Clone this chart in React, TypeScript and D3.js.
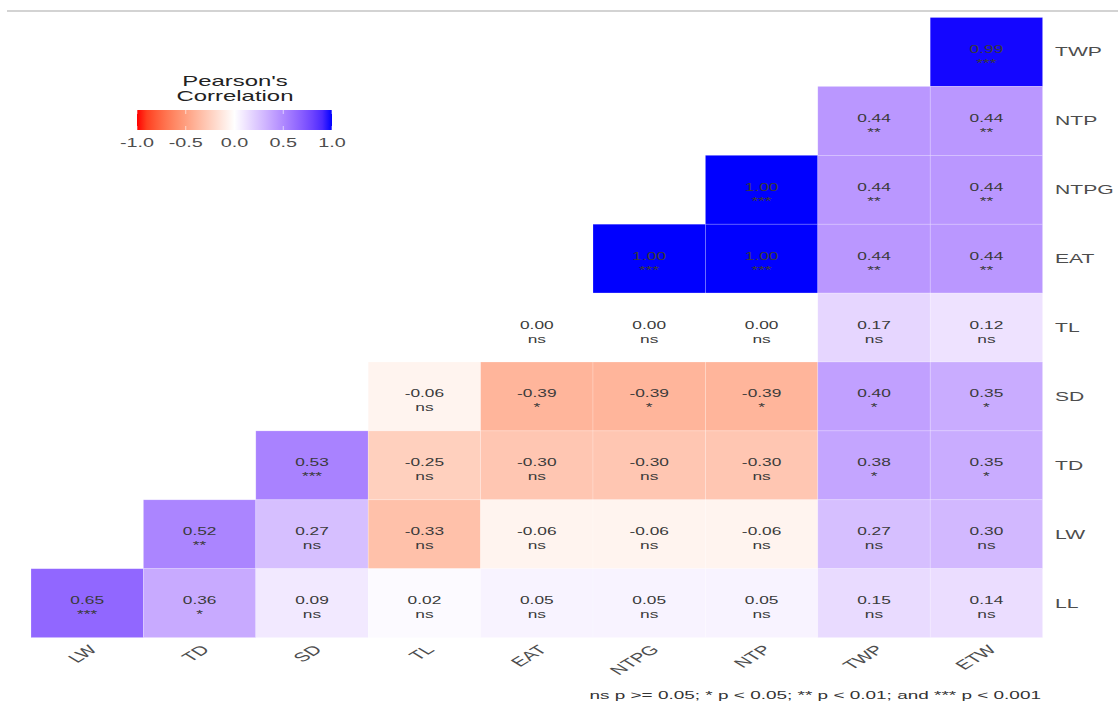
import React from "react";
import * as d3 from "d3";

const rowVars = ["TWP", "NTP", "NTPG", "EAT", "TL", "SD", "TD", "LW", "LL"];
const colVars = ["LW", "TD", "SD", "TL", "EAT", "NTPG", "NTP", "TWP", "ETW"];

// correlation values by row (columns follow colVars, null = empty)
const valTWP = [null, null, null, null, null, null, null, null, 0.99];
const valNTP = [null, null, null, null, null, null, null, 0.44, 0.44];
const valNTPG = [null, null, null, null, null, null, 1.0, 0.44, 0.44];
const valEAT = [null, null, null, null, null, 1.0, 1.0, 0.44, 0.44];
const valTL = [null, null, null, null, 0.0, 0.0, 0.0, 0.17, 0.12];
const valSD = [null, null, null, -0.06, -0.39, -0.39, -0.39, 0.4, 0.35];
const valTD = [null, null, 0.53, -0.25, -0.3, -0.3, -0.3, 0.38, 0.35];
const valLW = [null, 0.52, 0.27, -0.33, -0.06, -0.06, -0.06, 0.27, 0.3];
const valLL = [0.65, 0.36, 0.09, 0.02, 0.05, 0.05, 0.05, 0.15, 0.14];

// significance labels by row
const sigTWP = [null, null, null, null, null, null, null, null, "***"];
const sigNTP = [null, null, null, null, null, null, null, "**", "**"];
const sigNTPG = [null, null, null, null, null, null, "***", "**", "**"];
const sigEAT = [null, null, null, null, null, "***", "***", "**", "**"];
const sigTL = [null, null, null, null, "ns", "ns", "ns", "ns", "ns"];
const sigSD = [null, null, null, "ns", "*", "*", "*", "*", "*"];
const sigTD = [null, null, "***", "ns", "ns", "ns", "ns", "*", "*"];
const sigLW = [null, "**", "ns", "ns", "ns", "ns", "ns", "ns", "ns"];
const sigLL = ["***", "*", "ns", "ns", "ns", "ns", "ns", "ns", "ns"];

const valueRows = [valTWP, valNTP, valNTPG, valEAT, valTL, valSD, valTD, valLW, valLL];
const sigRows = [sigTWP, sigNTP, sigNTPG, sigEAT, sigTL, sigSD, sigTD, sigLW, sigLL];

const legendTicks = [-1, -0.5, 0, 0.5, 1];
const legendTitle = ["Pearson's", "Correlation"];
const footnote = "ns p >= 0.05; * p < 0.05; ** p < 0.01; and *** p < 0.001";

const W = 1118;
const H = 702;
const SX = 1.65; // horizontal stretch of the text in the reference
const FONT = "'Liberation Sans', Arial, Helvetica, sans-serif";

export default function App() {
  const x = d3.scaleBand<string>().domain(colVars).range([31, 1042.6]).padding(0);
  const y = d3.scaleBand<string>().domain(rowVars).range([17.5, 637.6]).padding(0);
  const color = d3
    .scaleLinear<string>()
    .domain([-1, 0, 1])
    .range(["#ff0000", "#ffffff", "#0000ff"])
    .interpolate(d3.interpolateLab);

  const cells: { r: string; c: string; v: number; s: string }[] = [];
  rowVars.forEach((r, i) => {
    colVars.forEach((c, j) => {
      const v = valueRows[i][j];
      if (v !== null && v !== undefined) cells.push({ r, c, v, s: sigRows[i][j] as string });
    });
  });

  const lx = d3.scaleLinear().domain([-1, 1]).range([137, 332]);
  const gradStops = d3.range(0, 1.0001, 0.05);

  const T = (
    tx: number,
    ty: number,
    content: string,
    opts: { size: number; fill: string; anchor?: string; rotate?: number; key?: string; baseline?: string }
  ) => (
    <text
      key={opts.key}
      transform={`translate(${tx},${ty}) scale(${SX},1)${opts.rotate ? ` rotate(${opts.rotate})` : ""}`}
      fontSize={opts.size}
      fill={opts.fill}
      textAnchor={opts.anchor || "middle"}
      dominantBaseline={opts.baseline || "auto"}
      fontFamily={FONT}
    >
      {content}
    </text>
  );

  return (
    <svg
      width={W}
      height={H}
      style={{ position: "absolute", left: 0, top: 0, background: "#ffffff" }}
    >
      <defs>
        <linearGradient id="lg" x1="0" x2="1" y1="0" y2="0">
          {gradStops.map((t) => (
            <stop key={t} offset={t} stopColor={color(-1 + 2 * t)} />
          ))}
        </linearGradient>
      </defs>
      <rect x={0} y={0} width={W} height={H} fill="#ffffff" />
      <line x1={7} x2={W} y1={11} y2={11} stroke="#c4c4c4" strokeWidth={1.5} />

      {/* cells */}
      {cells.map((d) => (
        <rect
          key={`r-${d.r}-${d.c}`}
          x={x(d.c)}
          y={y(d.r)}
          width={x.bandwidth()}
          height={y.bandwidth()}
          fill={color(d.v)}
          stroke="#ffffff"
          strokeOpacity={0.35}
          strokeWidth={0.6}
        />
      ))}
      {cells.map((d) => {
        const cx = (x(d.c) as number) + x.bandwidth() / 2;
        const cy = (y(d.r) as number) + y.bandwidth() / 2;
        return (
          <g key={`t-${d.r}-${d.c}`}>
            {T(cx, cy + 1, d.v.toFixed(2), { size: 10.5, fill: "#3a3a3a" })}
            {T(cx, cy + 15, d.s, { size: 10.5, fill: "#3a3a3a" })}
          </g>
        );
      })}

      {/* row labels */}
      {rowVars.map((r) =>
        T(1055, (y(r) as number) + y.bandwidth() / 2, r, {
          size: 12.8,
          fill: "#4d4d4d",
          anchor: "start",
          baseline: "central",
          key: `rl-${r}`,
        })
      )}

      {/* column labels */}
      {colVars.map((c) =>
        T((x(c) as number) + x.bandwidth() / 2 + 11, 650.5, c, {
          size: 12.8,
          fill: "#4d4d4d",
          anchor: "end",
          rotate: -45,
          key: `cl-${c}`,
        })
      )}

      {/* legend */}
      {legendTitle.map((t, i) =>
        T(235, 86 + i * 14.5, t, { size: 14.5, fill: "#222222", key: `lt-${i}` })
      )}
      <rect x={lx(-1)} y={110} width={lx(1) - lx(-1)} height={20} fill="url(#lg)" />
      {legendTicks.map((t) => (
        <g key={`tk-${t}`}>
          <line x1={lx(t)} x2={lx(t)} y1={110} y2={114} stroke="#ffffff" strokeOpacity={0.6} />
          <line x1={lx(t)} x2={lx(t)} y1={126} y2={130} stroke="#ffffff" strokeOpacity={0.6} />
          {T(lx(t), 147, t.toFixed(1), { size: 12, fill: "#4d4d4d" })}
        </g>
      ))}

      {/* footnote */}
      {T(1041, 699, footnote, { size: 11.5, fill: "#333333", anchor: "end" })}
    </svg>
  );
}
